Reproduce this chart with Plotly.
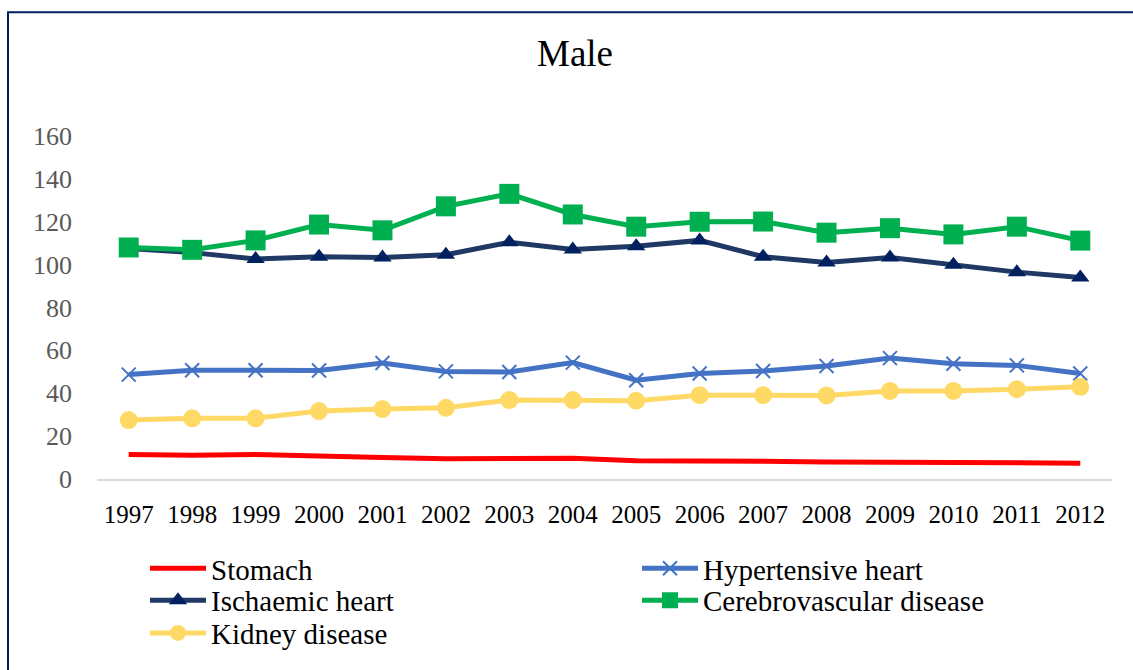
import plotly.graph_objects as go

years = [str(y) for y in range(1997, 2013)]

stomach = [11.4, 11.1, 11.4, 10.5, 10.0, 9.4, 9.3, 9.7, 8.5, 8.6, 8.3, 7.9, 7.8, 7.4, 7.6, 7.4]
hypertensive = [48.7, 50.7, 50.7, 50.6, 54.1, 50.2, 49.9, 54.3, 46.1, 49.2, 50.4, 52.7, 56.4, 53.8, 53.0, 49.2]
ischaemic = [107.5, 105.6, 102.6, 103.7, 103.3, 104.6, 110.4, 107.1, 108.6, 111.3, 103.7, 101.0, 103.3, 99.9, 96.5, 94.0]
cerebrovascular = [108.0, 106.9, 111.3, 118.7, 116.0, 127.2, 133.0, 123.4, 117.7, 120.0, 120.1, 114.9, 117.0, 114.1, 117.7, 111.2]
kidney = [27.5, 28.3, 28.3, 31.7, 32.6, 33.2, 36.8, 36.8, 36.5, 39.1, 39.1, 39.0, 41.1, 41.1, 41.9, 43.0]

W, H = 1133, 670
ML, MR, MT, MB = 97, 21, 136, 189
FONT = "Liberation Serif, Times New Roman, serif"


def px_x(p):
    return (p - ML) / (W - ML - MR)


def px_y(p):
    return 1 - (p - MT) / (H - MT - MB)


fig = go.Figure()

fig.add_trace(go.Scatter(
    x=years, y=stomach, name="Stomach", mode="lines", legend="legend",
    line=dict(color="#FF0000", width=5)))
fig.add_trace(go.Scatter(
    x=years, y=hypertensive, name="Hypertensive heart", mode="lines+markers",
    legend="legend2",
    line=dict(color="#4472C4", width=5),
    marker=dict(symbol="x-thin", size=14, color="#4472C4",
                line=dict(color="#4472C4", width=2))))
fig.add_trace(go.Scatter(
    x=years, y=ischaemic, name="Ischaemic heart", mode="lines+markers",
    legend="legend3",
    line=dict(color="#203864", width=5),
    marker=dict(symbol="triangle-up", size=16, color="#002060")))
fig.add_trace(go.Scatter(
    x=years, y=cerebrovascular, name="Cerebrovascular disease", mode="lines+markers",
    legend="legend4",
    line=dict(color="#00B050", width=5),
    marker=dict(symbol="square", size=20, color="#00B050")))
fig.add_trace(go.Scatter(
    x=years, y=kidney, name="Kidney disease", mode="lines+markers",
    legend="legend5",
    line=dict(color="#FFD966", width=5),
    marker=dict(symbol="circle", size=18, color="#FFD966")))

# outer frame of the chart area (open on the right and bottom)
fig.add_shape(type="rect", xref="paper", yref="paper",
              x0=px_x(8), x1=px_x(1140), y0=px_y(680), y1=px_y(11.5),
              line=dict(color="#002060", width=2), fillcolor="rgba(0,0,0,0)",
              layer="below")

LEG_FONT = dict(family=FONT, size=29, color="#000000")


def legend_entry(x_left, y_center):
    return dict(orientation="h", x=px_x(x_left), xanchor="left",
                y=px_y(y_center), yanchor="middle",
                itemwidth=56, font=LEG_FONT,
                bgcolor="rgba(0,0,0,0)")


fig.update_layout(
    width=W, height=H,
    margin=dict(l=ML, r=MR, t=MT, b=MB),
    paper_bgcolor="white", plot_bgcolor="white",
    font=dict(family=FONT, color="#000000"),
    title=dict(text="Male", x=575 / W, xanchor="center",
               y=1 - 53 / H, yanchor="middle",
               font=dict(family=FONT, size=37, color="#000000")),
    xaxis=dict(type="category", range=[-0.5, 15.5],
               showgrid=False, zeroline=False,
               showline=True, linecolor="#D9D9D9", linewidth=1.5,
               ticks="", ticklabelstandoff=12,
               tickfont=dict(family=FONT, size=25, color="#000000")),
    yaxis=dict(range=[0, 160], tickvals=[0, 20, 40, 60, 80, 100, 120, 140, 160],
               showgrid=False, zeroline=False, showline=False,
               ticks="", ticklabelstandoff=24,
               tickfont=dict(family=FONT, size=26, color="#595959")),
    legend=legend_entry(145, 571),
    legend2=legend_entry(637, 571),
    legend3=legend_entry(145, 603),
    legend4=legend_entry(637, 603),
    legend5=legend_entry(145, 636),
    showlegend=True,
)

fig.write_html("out.html")
